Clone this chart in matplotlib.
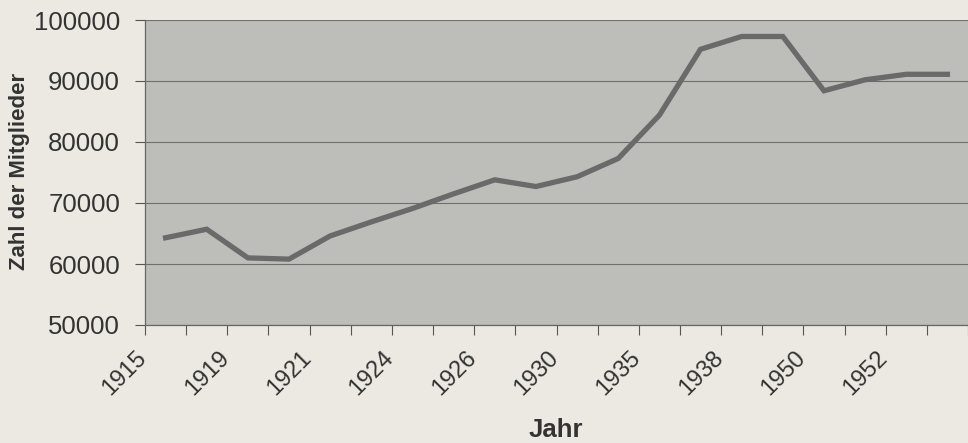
import numpy as np
from matplotlib import pyplot as plt

# Mitgliederzahlen, 20 Kategorien
members = [64300, 65700, 61000, 60800, 64600, 66900, 69100, 71500, 73800, 72700,
           74300, 77300, 84400, 95200, 97300, 97300, 88400, 90200, 91100, 91100]
# nur jede zweite Kategorie ist beschriftet
tick_labels = ["1915", "1919", "1921", "1924", "1926", "1930", "1935", "1938", "1950", "1952"]
y_ticks = [50000, 60000, 70000, 80000, 90000, 100000]

plt.rcParams['font.family'] = ['Liberation Sans', 'DejaVu Sans']

fig = plt.figure(figsize=(9.68, 4.43), dpi=100, facecolor='#ebe9e1')
ax = fig.add_axes([145/968, 118/443, 1 - 145/968, 305/443])
ax.set_facecolor('#bdbdb9')

x = np.arange(len(members))
ax.plot(x, members, color='#6a6a6a', linewidth=3.8, solid_joinstyle='miter')

ax.set_yticks(y_ticks)
ax.set_yticklabels([str(v) for v in y_ticks], fontsize=18.5, color='#333333')
ax.yaxis.grid(True, color='#6e6e6e', linewidth=0.8)
ax.set_axisbelow(True)

# Teilstriche an den Kategoriegrenzen
ax.set_xticks(np.arange(len(members) + 1) - 0.5)
ax.set_xticklabels([])
ax.tick_params(axis='x', length=7, color='#555555')
ax.tick_params(axis='y', length=7, color='#555555', pad=11)

ax.set_xlim(-0.5, len(members) - 0.5)
ax.set_ylim(50000, 100000)

# Beschriftung jeder zweiten Kategorie, endet etwa an der linken Grenze
for pos, lab in zip(x[::2] - 0.5, tick_labels):
    ax.annotate(lab, xy=(pos, 0), xycoords=('data', 'axes fraction'),
                xytext=(-6.6, -15.5), textcoords='offset points',
                rotation=45, rotation_mode='anchor', ha='right', va='top',
                fontsize=17, color='#333333', annotation_clip=False)

for s in ['top', 'right']:
    ax.spines[s].set_visible(False)
for s in ['left', 'bottom']:
    ax.spines[s].set_color('#666666')
    ax.spines[s].set_linewidth(0.9)

fig.text(20/968, 1 - 171/443, "Zahl der Mitglieder", rotation=90, fontsize=16,
         fontweight='bold', color='#333333', ha='center', va='center')
fig.text(556/968, 6/443, "Jahr", fontsize=18.5, fontweight='bold',
         color='#333333', ha='center', va='baseline')

plt.savefig("out.png", dpi=100, facecolor=fig.get_facecolor())
